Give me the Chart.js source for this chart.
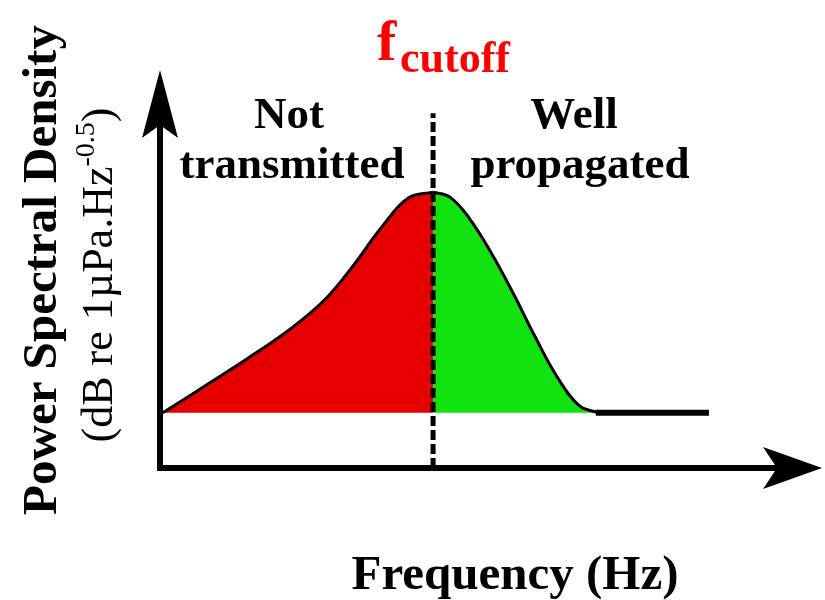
<!DOCTYPE html>
<html lang="en">
<head>
    <meta charset="UTF-8">
    <title>Power Spectral Density vs Frequency</title>
    <script src="https://cdn.jsdelivr.net/npm/chart.js"></script>
    <style>
        body {
            margin: 0;
            padding: 0;
            background-color: #fff;
        }
        canvas {
            display: block;
        }
    </style>
</head>
<body>
    <canvas id="psdChart" width="825" height="600"></canvas>

    <script>
        // curve below the cutoff (not transmitted)
        const redX = [0.5, 8, 16, 24, 30, 35, 40, 45, 49.5];
        const redY = [14, 20.7, 27.9, 35.7, 42.9, 51.3, 60.8, 68.5, 70];
        // curve above the cutoff (well propagated)
        const greenX = [49.5, 52.5, 56, 60, 64, 68, 72, 76, 79.5];
        const greenY = [70, 68.8, 63.5, 54.7, 44.4, 33.3, 23.1, 15.8, 14];
        // flat tail
        const flatX = [79, 99.5];
        const flatY = [14, 14];
        const baseLevel = 14;
        // cutoff frequency marker
        const cutoffX = 49.5;
        const cutoffY = [0, 90];

        const toPoints = (xs, ys) => xs.map((x, i) => ({ x: x, y: ys[i] }));

        const serif = '"Liberation Serif", "Times New Roman", serif';

        const decor = {
            id: 'decor',
            afterDatasetsDraw(chart) {
                const ctx = chart.ctx;
                const ox = chart.scales.x.getPixelForValue(0);
                const oy = chart.scales.y.getPixelForValue(0);
                const right = chart.chartArea.right;
                const top = chart.chartArea.top;

                ctx.save();
                ctx.strokeStyle = '#000';
                ctx.fillStyle = '#000';
                ctx.lineWidth = 6;
                // axes
                ctx.beginPath();
                ctx.moveTo(ox, oy + 3);
                ctx.lineTo(ox, top + 50);
                ctx.stroke();
                ctx.beginPath();
                ctx.moveTo(ox - 3, oy);
                ctx.lineTo(right - 40, oy);
                ctx.stroke();
                // arrow heads
                ctx.beginPath();
                ctx.moveTo(ox, top);
                ctx.lineTo(ox + 18, top + 68);
                ctx.lineTo(ox, top + 55);
                ctx.lineTo(ox - 18, top + 68);
                ctx.closePath();
                ctx.fill();
                ctx.beginPath();
                ctx.moveTo(right, oy);
                ctx.lineTo(right - 59, oy - 21);
                ctx.lineTo(right - 45, oy);
                ctx.lineTo(right - 59, oy + 21);
                ctx.closePath();
                ctx.fill();

                // annotations
                ctx.textAlign = 'center';
                ctx.textBaseline = 'alphabetic';
                ctx.font = 'bold 45px ' + serif;
                ctx.fillText('Not', 289, 128);
                ctx.fillText('transmitted', 292, 178);
                ctx.fillText('Well', 574, 128);
                ctx.fillText('propagated', 580, 178);

                ctx.font = 'bold 49px ' + serif;
                ctx.fillText('Frequency (Hz)', 515, 589);

                // f_cutoff
                ctx.fillStyle = '#ff0000';
                ctx.textAlign = 'left';
                ctx.font = 'bold 58px ' + serif;
                ctx.fillText('f', 377, 60);
                ctx.font = 'bold 44px ' + serif;
                ctx.fillText('cutoff', 400, 72);

                // y axis title
                ctx.fillStyle = '#000';
                ctx.save();
                ctx.translate(56, 270);
                ctx.rotate(-Math.PI / 2);
                ctx.textAlign = 'center';
                ctx.font = 'bold 49px ' + serif;
                ctx.fillText('Power Spectral Density', 0, 0);
                ctx.restore();

                ctx.save();
                ctx.translate(112, 275);
                ctx.rotate(-Math.PI / 2);
                ctx.textAlign = 'left';
                const mainFont = '44px ' + serif;
                const supFont = '28px ' + serif;
                ctx.font = mainFont;
                const w1 = ctx.measureText('(dB re 1\u00b5Pa.Hz').width;
                const w3 = ctx.measureText(')').width;
                ctx.font = supFont;
                const w2 = ctx.measureText('-0.5').width;
                let x = -(w1 + w2 + w3) / 2;
                ctx.font = mainFont;
                ctx.fillText('(dB re 1\u00b5Pa.Hz', x, 0);
                x += w1;
                ctx.font = supFont;
                ctx.fillText('-0.5', x, -18);
                x += w2;
                ctx.font = mainFont;
                ctx.fillText(')', x, 0);
                ctx.restore();

                ctx.restore();
            }
        };

        const ctx = document.getElementById('psdChart').getContext('2d');
        new Chart(ctx, {
            type: 'line',
            data: {
                datasets: [
                    {
                        label: 'cutoff',
                        data: toPoints([cutoffX, cutoffX], cutoffY),
                        borderColor: '#000',
                        borderWidth: 5,
                        borderDash: [10, 4],
                        fill: false
                    },
                    {
                        label: 'not transmitted',
                        data: toPoints(redX, redY),
                        borderColor: '#000',
                        borderWidth: 3,
                        backgroundColor: '#e60000',
                        fill: { value: baseLevel },
                        tension: 0.4
                    },
                    {
                        label: 'well propagated',
                        data: toPoints(greenX, greenY),
                        borderColor: '#000',
                        borderWidth: 3,
                        backgroundColor: '#11e311',
                        fill: { value: baseLevel },
                        tension: 0.4
                    },
                    {
                        label: 'tail',
                        data: toPoints(flatX, flatY),
                        borderColor: '#000',
                        borderWidth: 6,
                        fill: false
                    }
                ]
            },
            options: {
                responsive: false,
                animation: false,
                layout: { padding: { left: 160, right: 3, top: 70, bottom: 132 } },
                elements: { point: { radius: 0 } },
                plugins: {
                    legend: { display: false },
                    tooltip: { enabled: false }
                },
                scales: {
                    x: { type: 'linear', min: 0, max: 120, display: false },
                    y: { min: 0, max: 101, display: false }
                }
            },
            plugins: [decor]
        });
    </script>
</body>
</html>
